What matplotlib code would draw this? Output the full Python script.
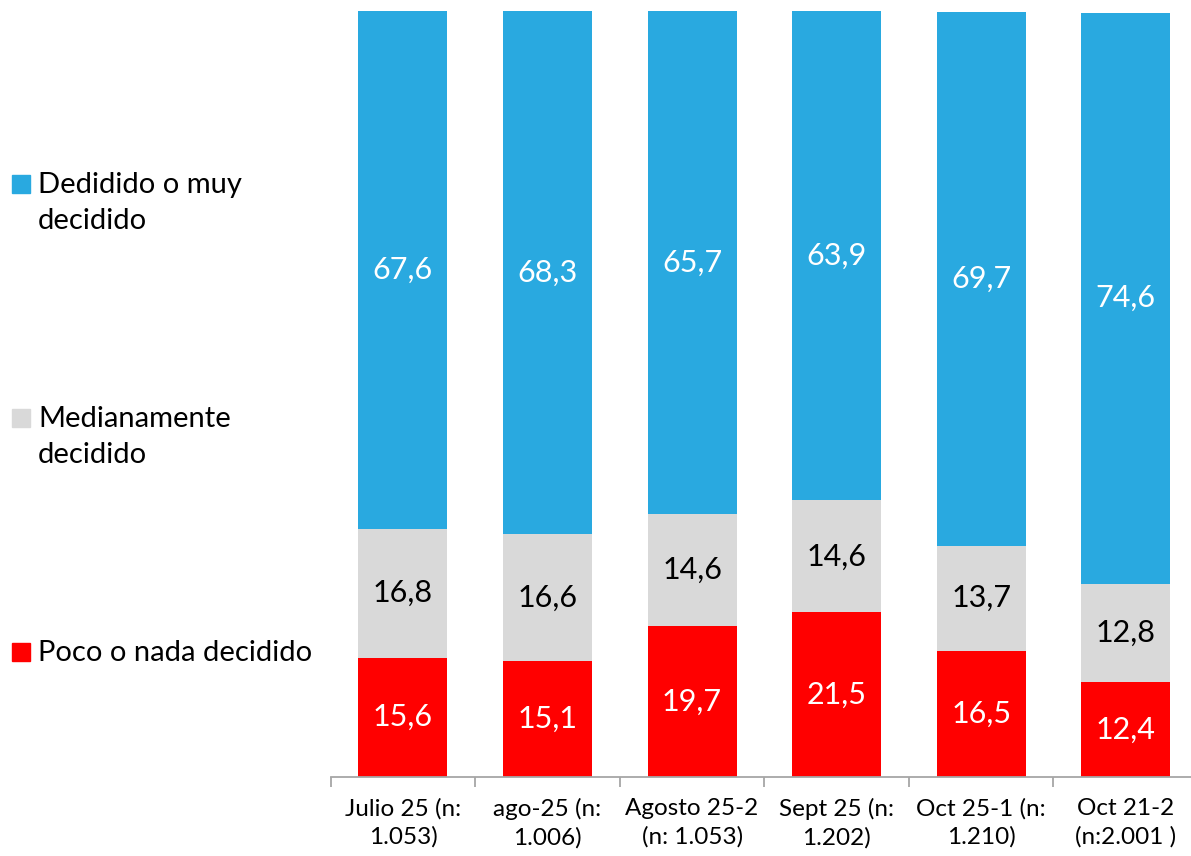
import matplotlib.pyplot as plt
from matplotlib.patches import Rectangle
import numpy as np

# Daten
# -----------------------------------------------------------------------------
categories = ["Julio 25 (n:\n1.053)", "ago-25 (n:\n1.006)", "Agosto 25-2\n(n: 1.053)",
              "Sept 25 (n:\n1.202)", "Oct 25-1 (n:\n1.210)", "Oct 21-2\n(n:2.001 )"]
poco = [15.6, 15.1, 19.7, 21.5, 16.5, 12.4]
medio = [16.8, 16.6, 14.6, 14.6, 13.7, 12.8]
decidido = [67.6, 68.3, 65.7, 63.9, 69.7, 74.6]

series_names = ["Dedidido o muy\ndecidido", "Medianamente\ndecidido", "Poco o nada decidido"]
colors = {"poco": "#FF0000", "medio": "#D9D9D9", "decidido": "#29A9E0"}

plt.rcParams['font.family'] = ['Lato', 'DejaVu Sans']

fig = plt.figure(figsize=(11.91, 8.56), dpi=100)
W, H = 1191, 856
# Achse: links x=330.7, Grundlinie y=777, 100% bei y=11
ax = fig.add_axes([330.7 / W, (H - 777) / H, (1198 - 330.7) / W, (777 - 11) / H])

x = np.arange(len(categories))
bw = 0.616
poco_a = np.array(poco)
medio_a = np.array(medio)
dec_a = np.array(decidido)

ax.bar(x, poco_a, bw, color=colors["poco"])
ax.bar(x, medio_a, bw, bottom=poco_a, color=colors["medio"])
ax.bar(x, dec_a, bw, bottom=poco_a + medio_a, color=colors["decidido"])

def label(vals, bottoms, col):
    for xi, v, b in zip(x, vals, bottoms):
        ax.text(xi, b + v / 2, f"{v:.1f}".replace(".", ","), ha="center", va="center",
                color=col, fontsize=22)

label(poco_a, np.zeros(len(x)), "white")
label(medio_a, poco_a, "black")
label(dec_a, poco_a + medio_a, "white")

ax.set_xlim(-0.5, len(x) - 0.5)
ax.set_ylim(0, 100)
for s in ["top", "right", "left"]:
    ax.spines[s].set_visible(False)
ax.spines["bottom"].set_color("#A6A6A6")
ax.spines["bottom"].set_linewidth(1.3)
ax.set_yticks([])
ax.set_xticks(np.arange(len(x) + 1) - 0.5, minor=False)
ax.set_xticklabels([])
ax.tick_params(axis="x", which="major", length=7, color="#A6A6A6", width=1.3)
ax.set_xticks(x, minor=True)
ax.set_xticklabels(categories, minor=True, fontsize=17.5, linespacing=1.4)
ax.tick_params(axis="x", which="minor", length=0, pad=15)

# Legende links
legend_items = [(series_names[0], colors["decidido"], 184),
                (series_names[1], colors["medio"], 418),
                (series_names[2], colors["poco"], 652)]
for name, col, yc in legend_items:
    fig.patches.append(Rectangle((12 / W, (H - yc - 9) / H), 18 / W, 18 / H,
                                 transform=fig.transFigure, color=col))
    fig.text(38 / W, (H - yc + 12) / H, name, fontsize=21, va="top", ha="left",
             linespacing=1.47)

fig.savefig("out.png", dpi=100)
